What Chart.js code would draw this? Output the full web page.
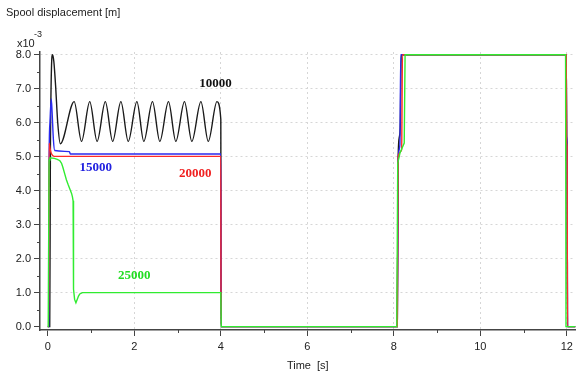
<!DOCTYPE html>
<html>
<head>
<meta charset="utf-8">
<script src="https://cdn.jsdelivr.net/npm/chart.js@4/dist/chart.umd.min.js"></script>
<style>
  html, body { margin: 0; padding: 0; background: #fff; }
  #chart { display: block; }
</style>
</head>
<body>
<canvas id="chart" width="577" height="379"></canvas>
<script>
// ---- data (time in s, displacement in 1e-3 m) ----
const t10000 = [0, 0.045, 0.06, 0.085, 0.11, 0.14, 0.18, 0.23, 0.29,
  0.61, 0.78, 0.97, 1.14, 1.33, 1.50, 1.69, 1.86, 2.06, 2.22, 2.42, 2.59,
  2.79, 2.96, 3.16, 3.33, 3.54, 3.71, 3.91, 4.0, 4.005,
  8.08, 8.1, 8.13, 8.15, 8.17, 11.985, 11.995, 12.005, 12.015, 12.2];
const v10000 = [0, 0, 5.0, 7.6, 8.0, 7.8, 7.1, 6.0, 5.38,
  6.62, 5.45, 6.62, 5.45, 6.62, 5.45, 6.62, 5.45, 6.62, 5.45, 6.62, 5.45,
  6.62, 5.45, 6.62, 5.45, 6.62, 5.45, 6.62, 6.1, 0,
  0, 5.0, 5.6, 6.0, 8.0, 8.0, 5.5, 5.4, 0, 0];

const t15000 = [0, 0.02, 0.03, 0.05, 0.08, 0.1, 0.13, 0.16, 0.5, 0.52, 4.0, 4.005,
  8.08, 8.1, 8.14, 8.16, 11.985, 11.995, 12.005, 12.015, 12.2];
const v15000 = [0, 0, 4.8, 6.0, 6.7, 6.3, 5.5, 5.18, 5.15, 5.08, 5.08, 0,
  0, 4.9, 5.35, 8.0, 8.0, 5.6, 5.5, 0, 0];

const t20000 = [0, 0.02, 0.03, 0.05, 0.08, 0.15, 4.0, 4.005,
  8.08, 8.1, 8.18, 8.2, 11.985, 11.995, 12.005, 12.015, 12.2];
const v20000 = [0, 0, 5.4, 5.25, 5.1, 5.01, 5.01, 0,
  0, 5.0, 5.2, 8.0, 8.0, 5.4, 5.3, 0, 0];

const t25000 = [0, 0.01, 0.03, 0.05, 0.15, 0.22, 0.28, 0.32, 0.35, 0.39, 0.43, 0.47, 0.51,
  0.55, 0.57, 0.585, 0.595, 0.62, 0.65, 0.68, 0.71, 0.74, 0.8, 4.0, 4.01,
  8.06, 8.07, 8.09, 8.14, 8.24, 8.26, 11.97, 11.98, 12.2];
const v25000 = [0, 0, 4.9, 4.97, 4.95, 4.92, 4.88, 4.8, 4.68, 4.5, 4.32, 4.18, 4.05,
  3.92, 3.82, 3.7, 1.1, 0.8, 0.7, 0.8, 0.9, 0.96, 1.0, 1.0, 0,
  0, 0.4, 4.8, 5.1, 5.4, 8.0, 8.0, 0, 0];

const seriesNames  = ['10000', '15000', '20000', '25000'];
const seriesColors = ['#1a1a1a', '#2a2af0', '#ff2a2a', '#30ec30'];
const labelColors  = ['#111111', '#2222e0', '#f02020', '#22dd22'];
const seriesCurve  = ['monotone', 'monotone', 'monotone', 'default'];
// where each series name sits, in data coordinates
const labelT = [3.88, 1.11, 3.41, 2.0];
const labelV = [7.16, 4.67, 4.49, 1.5];

const xTicks = [0, 1, 2, 3, 4, 5, 6, 7, 8, 9, 10, 11, 12];
const yTicks = [0, 0.5, 1, 1.5, 2, 2.5, 3, 3.5, 4, 4.5, 5, 5.5, 6, 6.5, 7, 7.5, 8];

const toPoints = (ts, vs) => ts.map((t, i) => ({ x: t, y: vs[i] }));
const allT = [t10000, t15000, t20000, t25000];
const allV = [v10000, v15000, v20000, v25000];

const FONT = "'Liberation Sans', Arial, sans-serif";
const isMajorX = v => v % 2 === 0;
const isMajorY = v => Number.isInteger(v);

// series names, heading, x10^-3 exponent and short minor tick marks
const textPlugin = {
  id: 'textPlugin',
  afterDraw(chart) {
    const { ctx, scales: { x, y } } = chart;
    ctx.save();

    // minor ticks (shorter than the major ones drawn by Chart.js)
    ctx.strokeStyle = '#444';
    ctx.lineWidth = 1;
    ctx.beginPath();
    xTicks.filter(v => !isMajorX(v)).forEach(v => {
      const px = Math.round(x.getPixelForValue(v)) + 0.5;
      ctx.moveTo(px, y.bottom);
      ctx.lineTo(px, y.bottom + 3);
    });
    yTicks.filter(v => !isMajorY(v)).forEach(v => {
      const py = Math.round(y.getPixelForValue(v)) + 0.5;
      ctx.moveTo(x.left - 3, py);
      ctx.lineTo(x.left, py);
    });
    ctx.stroke();

    ctx.fillStyle = '#222';
    ctx.textBaseline = 'alphabetic';
    ctx.textAlign = 'left';
    ctx.font = `11px ${FONT}`;
    ctx.fillText('Spool displacement [m]', 6, 16);
    ctx.fillText('x10', 17, 47);
    ctx.font = `9px ${FONT}`;
    ctx.fillText('-3', 34, 37);

    ctx.font = "bold 13px 'Liberation Serif', 'Times New Roman', serif";
    ctx.textAlign = 'center';
    ctx.textBaseline = 'middle';
    seriesNames.forEach((name, i) => {
      ctx.fillStyle = labelColors[i];
      ctx.fillText(name, x.getPixelForValue(labelT[i]), y.getPixelForValue(labelV[i]));
    });
    ctx.restore();
  }
};

// green drawn on top, black underneath
const order = [3, 2, 1, 0];
const datasets = order.map(i => ({
  label: seriesNames[i],
  data: toPoints(allT[i], allV[i]),
  borderColor: seriesColors[i],
  borderWidth: 1.4,
  pointRadius: 0,
  fill: false,
  tension: 0,
  cubicInterpolationMode: seriesCurve[i]
}));

new Chart(document.getElementById('chart'), {
  type: 'line',
  data: { datasets },
  options: {
    responsive: false,
    animation: false,
    devicePixelRatio: 1,
    layout: { padding: { top: 52, left: 0, right: 1, bottom: 0 } },
    plugins: {
      legend: { display: false },
      tooltip: { enabled: false }
    },
    scales: {
      x: {
        type: 'linear',
        min: -0.18,
        max: 12.2,
        afterBuildTicks: axis => { axis.ticks = xTicks.map(v => ({ value: v })); },
        afterFit: axis => { axis.height = 49; },
        ticks: {
          autoSkip: false,
          maxRotation: 0,
          padding: 4,
          color: '#222',
          font: { family: FONT, size: 11 },
          callback: v => (isMajorX(v) ? String(v) : '')
        },
        grid: {
          color: c => (c.tick && isMajorX(c.tick.value) && c.tick.value > 0) ? '#d6d6d6' : 'rgba(0,0,0,0)',
          lineWidth: 1,
          tickColor: c => (c.tick && isMajorX(c.tick.value)) ? '#444' : 'rgba(0,0,0,0)',
          tickLength: 6
        },
        border: { display: true, color: '#444', width: 1.5, dash: [2, 3] },
        title: {
          display: true,
          text: 'Time  [s]',
          color: '#222',
          font: { family: FONT, size: 11 },
          padding: { top: 0, bottom: 6 }
        }
      },
      y: {
        type: 'linear',
        min: -0.1,
        max: 8.08,
        afterBuildTicks: axis => { axis.ticks = yTicks.map(v => ({ value: v })); },
        afterFit: axis => { axis.width = 40; },
        ticks: {
          autoSkip: false,
          padding: 3,
          color: '#222',
          font: { family: FONT, size: 11 },
          callback: v => (isMajorY(v) ? v.toFixed(1) : '')
        },
        grid: {
          color: c => (c.tick && isMajorY(c.tick.value) && c.tick.value > 0) ? '#d6d6d6' : 'rgba(0,0,0,0)',
          lineWidth: 1,
          tickColor: c => (c.tick && isMajorY(c.tick.value)) ? '#444' : 'rgba(0,0,0,0)',
          tickLength: 6
        },
        border: { display: true, color: '#444', width: 1.5, dash: [2, 3] }
      }
    }
  },
  plugins: [textPlugin]
});
</script>
</body>
</html>
